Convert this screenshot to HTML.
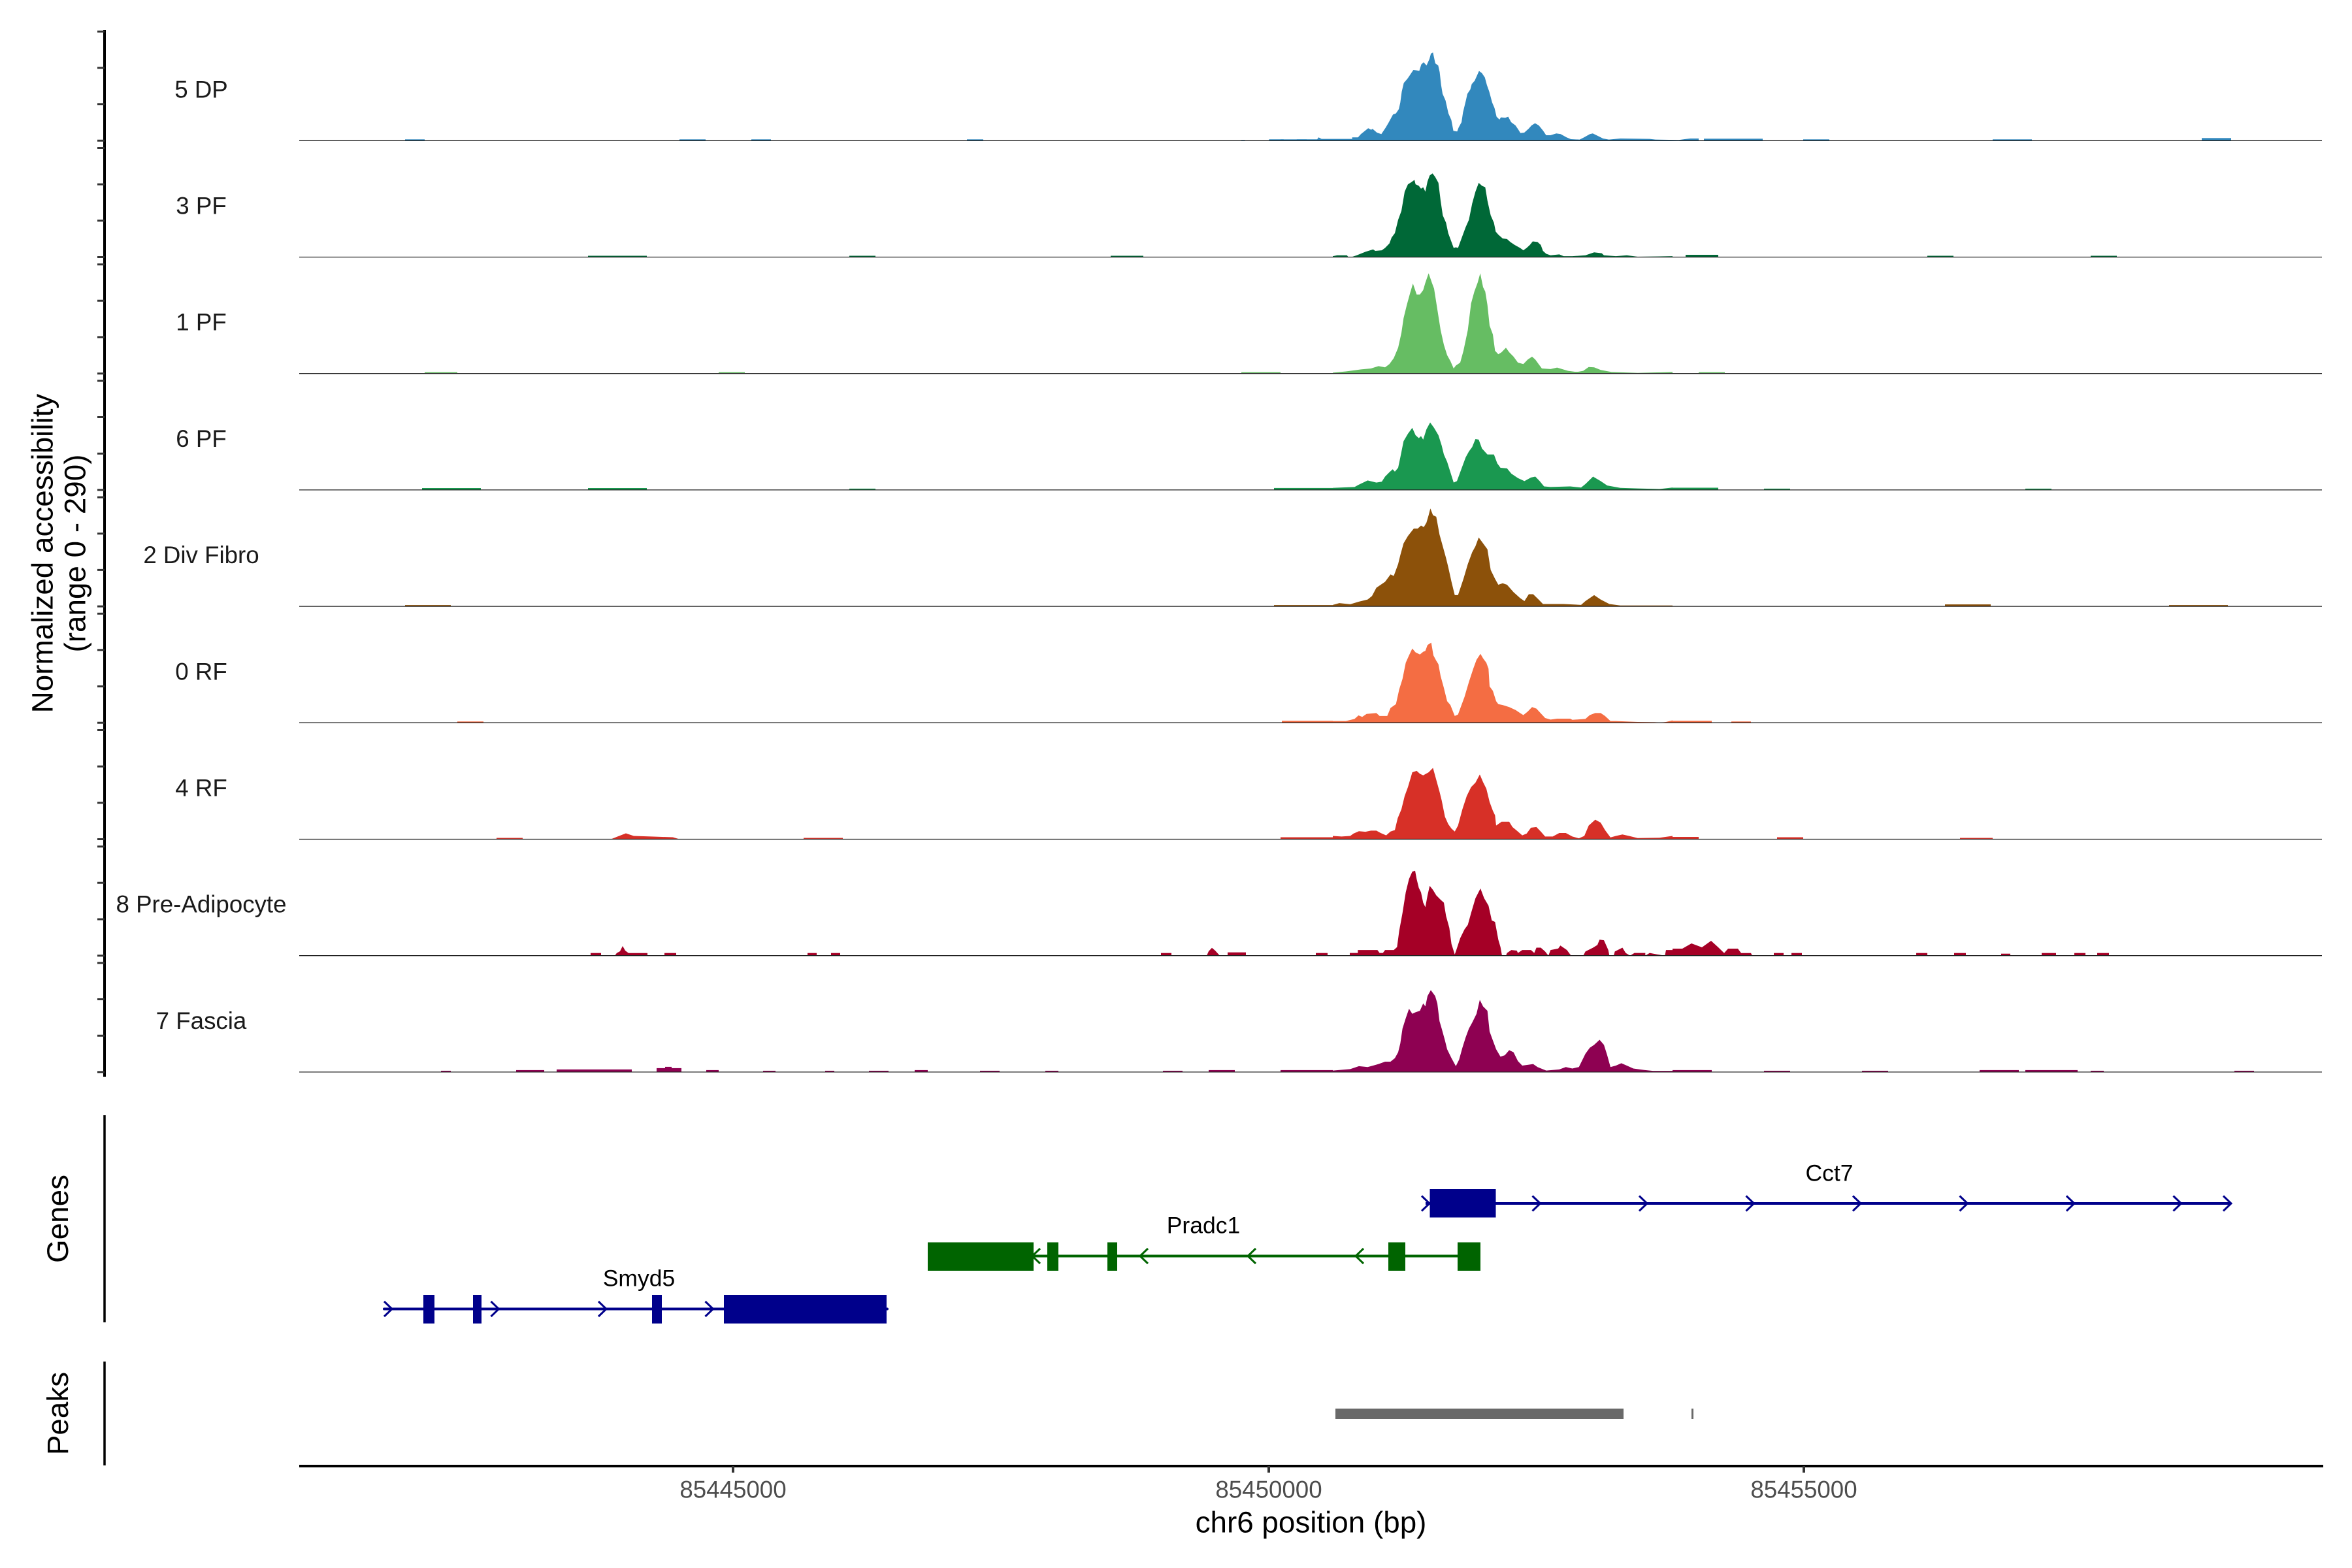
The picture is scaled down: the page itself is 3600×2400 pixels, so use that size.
<!DOCTYPE html>
<html>
<head>
<meta charset="utf-8">
<style>
html,body{margin:0;padding:0;background:#fff;}
svg{display:block;}
text{font-family:"Liberation Sans",Arial,sans-serif;}
</style>
</head>
<body>
<svg width="3600" height="2400" viewBox="0 0 3600 2400" xmlns="http://www.w3.org/2000/svg">
<rect x="0" y="0" width="3600" height="2400" fill="#fff"/>

<!-- Y axis title -->
<text x="80.5" y="847" transform="rotate(-90 80.5 847)" text-anchor="middle" font-size="45.8" fill="#000">Normalized accessibility</text>
<text x="130.3" y="847" transform="rotate(-90 130.3 847)" text-anchor="middle" font-size="45.8" fill="#000">(range 0 - 290)</text>
<text x="104" y="1865.5" transform="rotate(-90 104 1865.5)" text-anchor="middle" font-size="45.8" fill="#000">Genes</text>
<text x="104" y="2163.5" transform="rotate(-90 104 2163.5)" text-anchor="middle" font-size="45.8" fill="#000">Peaks</text>

<!-- left axes -->
<line x1="160" y1="46" x2="160" y2="1648" stroke="#000" stroke-width="4"/>
<line x1="160" y1="1707" x2="160" y2="2024" stroke="#000" stroke-width="3.5"/>
<line x1="160" y1="2084" x2="160" y2="2243" stroke="#000" stroke-width="3.5"/>
<g stroke="#333" stroke-width="3">
<path d="M149 215.3H160M149 159.6H160M149 103.9H160M149 48.3H160
M149 393.5H160M149 337.8H160M149 282.1H160M149 226.5H160
M149 571.7H160M149 516H160M149 460.3H160M149 404.7H160
M149 749.9H160M149 694.2H160M149 638.5H160M149 582.9H160
M149 928.1H160M149 872.4H160M149 816.7H160M149 761.1H160
M149 1106.3H160M149 1050.6H160M149 994.9H160M149 939.3H160
M149 1284.5H160M149 1228.8H160M149 1173.1H160M149 1117.5H160
M149 1462.7H160M149 1407H160M149 1351.3H160M149 1295.7H160
M149 1640.9H160M149 1585.2H160M149 1529.5H160M149 1473.9H160"/>
</g>

<!-- track labels -->
<g font-size="36.7" fill="#1a1a1a" text-anchor="middle">
<text x="308" y="149.3">5 DP</text>
<text x="308" y="327.5">3 PF</text>
<text x="308" y="505.7">1 PF</text>
<text x="308" y="683.9">6 PF</text>
<text x="308" y="862.1">2 Div Fibro</text>
<text x="308" y="1040.3">0 RF</text>
<text x="308" y="1218.5">4 RF</text>
<text x="308" y="1396.7">8 Pre-Adipocyte</text>
<text x="308" y="1574.9">7 Fascia</text>
</g>

<!-- Track 1: 5 DP -->
<g fill="#3288BD">
<path transform="translate(1900 215.3) scale(0.446429 0.333333)" d="M0 0L0 -3L12 -3L14 0L95 0L95 -6L145 -6L147 0L190 0L190 -6L260 -6L265 -15L275 -8L380 -8L380 -15L400 -15L410 -30L435 -57L445 -50L450 -54L465 -37L480 -30L495 -60L505 -83L520 -120L530 -125L540 -145L545 -175L550 -225L557 -265L570 -285L580 -305L590 -325L600 -323L610 -320L617 -350L625 -360L635 -345L645 -375L650 -400L657 -405L665 -355L675 -345L680 -315L685 -255L690 -215L700 -185L710 -125L720 -95L727 -45L740 -42L745 -60L755 -85L760 -130L770 -185L775 -215L785 -235L790 -260L800 -275L810 -305L815 -320L825 -310L835 -290L842 -255L850 -225L860 -175L868 -150L875 -110L885 -97L890 -107L905 -105L915 -110L925 -85L940 -70L950 -50L957 -35L970 -37L985 -55L995 -70L1007 -80L1020 -70L1035 -45L1045 -25L1060 -25L1080 -33L1095 -30L1115 -15L1130 -7L1160 -5L1175 -15L1195 -30L1205 -33L1225 -20L1240 -10L1260 -5L1300 -10L1400 -8L1420 -5L1500 -3L1520 -7L1540 -10L1568 -10L1568 0Z"/>
<rect x="620" y="213.3" width="30" height="2"/><rect x="1040" y="213.3" width="40" height="2"/><rect x="1150" y="213.3" width="30" height="2"/><rect x="1480" y="213.3" width="25" height="2"/><rect x="1960" y="213.3" width="40" height="2"/>
<rect x="2608" y="212.3" width="90" height="3"/><rect x="2760" y="213.3" width="40" height="2"/><rect x="3050" y="213.3" width="60" height="2"/><rect x="3370" y="211.3" width="45" height="4"/>
</g>

<!-- Track 2: 3 PF -->
<g fill="#006837">
<path transform="translate(2040 393.5) scale(0.333333 0.452796)" d="M0 0L0 -3L20 -6L65 -6L70 -1L90 -1L110 -6L150 -18L185 -26L195 -21L225 -23L240 -31L260 -46L270 -66L285 -81L300 -126L315 -156L330 -221L345 -246L360 -253L375 -261L380 -246L395 -241L405 -231L415 -236L425 -221L435 -256L445 -276L458 -283L470 -271L485 -251L495 -191L505 -141L520 -116L530 -81L545 -51L555 -31L565 -33L575 -31L590 -61L610 -101L625 -126L640 -181L655 -221L670 -251L685 -241L700 -236L710 -191L725 -141L740 -116L748 -86L760 -76L780 -63L800 -61L815 -51L835 -41L860 -31L875 -23L890 -31L905 -41L918 -53L940 -51L955 -41L965 -21L980 -11L1000 -6L1040 -9L1060 -3L1100 -3L1160 -6L1200 -16L1235 -13L1245 -6L1300 -3L1350 -6L1400 -1L1560 -3L1560 0Z"/>
<rect x="900" y="391.5" width="90" height="2"/><rect x="1300" y="391.5" width="40" height="2"/><rect x="1700" y="391.5" width="50" height="2"/><rect x="2580" y="390" width="50" height="3.5"/><rect x="2950" y="391.5" width="40" height="2"/><rect x="3200" y="391.5" width="40" height="2"/>
</g>

<!-- Track 3: 1 PF -->
<g fill="#66BD63">
<path transform="translate(2040 571.7) scale(0.333333 0.452796)" d="M0 0L0 -3L60 -7L100 -11L130 -14L175 -17L210 -25L240 -21L260 -32L280 -52L300 -87L315 -137L325 -187L340 -232L355 -272L368 -304L385 -267L400 -267L415 -282L425 -307L440 -339L455 -307L465 -287L480 -217L495 -147L510 -97L525 -62L540 -42L555 -17L565 -27L585 -37L600 -77L620 -147L635 -237L650 -277L665 -307L677 -339L690 -292L700 -277L710 -232L720 -162L735 -132L745 -77L760 -65L775 -72L795 -87L810 -72L830 -57L850 -37L875 -32L895 -47L915 -57L930 -47L945 -32L960 -17L1000 -15L1030 -20L1080 -9L1120 -5L1150 -9L1175 -22L1200 -21L1230 -12L1280 -5L1400 -2L1560 -5L1560 0Z"/>
<rect x="650" y="569.7" width="50" height="2"/><rect x="1100" y="569.7" width="40" height="2"/><rect x="1900" y="569.7" width="60" height="2"/><rect x="2400" y="569" width="50" height="2.7"/><rect x="2600" y="569.7" width="40" height="2"/>
</g>

<!-- Track 4: 6 PF -->
<g fill="#1A9850">
<path transform="translate(2040 749.9) scale(0.333333 0.452796)" d="M0 0L0 -7L100 -10L120 -18L160 -32L200 -25L225 -28L240 -45L260 -60L275 -70L285 -62L300 -75L310 -110L325 -165L345 -190L365 -210L380 -185L395 -175L405 -182L415 -170L430 -205L447 -228L465 -210L485 -185L500 -150L510 -120L525 -95L540 -60L555 -25L570 -30L590 -70L610 -110L625 -130L640 -145L655 -172L670 -170L685 -140L710 -120L740 -120L755 -90L770 -75L800 -73L820 -55L850 -40L880 -30L910 -42L930 -45L950 -30L970 -12L1000 -10L1090 -12L1140 -8L1160 -20L1195 -45L1230 -30L1260 -15L1320 -7L1400 -5L1500 -3L1560 -8L1560 0Z"/>
<rect x="646" y="747" width="90" height="3"/><rect x="900" y="747" width="90" height="3"/><rect x="1300" y="747.9" width="40" height="2"/><rect x="1950" y="746.9" width="90" height="3"/><rect x="2560" y="746.5" width="70" height="3.4"/><rect x="2700" y="747.9" width="40" height="2"/><rect x="3100" y="747.9" width="40" height="2"/>
</g>

<!-- Track 5: 2 Div Fibro -->
<g fill="#8C510A">
<path transform="translate(2040 928.1) scale(0.333333 0.452796)" d="M0 0L0 -5L30 -11L80 -7L120 -16L160 -23L180 -35L200 -63L240 -83L265 -108L280 -103L300 -143L310 -173L325 -213L345 -238L372 -263L390 -263L405 -273L418 -268L430 -283L440 -308L448 -331L460 -308L475 -303L490 -243L505 -203L520 -163L530 -133L545 -83L560 -38L575 -38L600 -93L620 -143L640 -183L655 -203L670 -233L685 -218L710 -193L725 -123L745 -93L760 -73L780 -78L800 -73L830 -48L860 -28L880 -18L900 -41L920 -41L945 -23L965 -8L1000 -8L1060 -8L1140 -5L1160 -18L1200 -38L1230 -23L1270 -8L1320 -3L1560 -3L1560 0Z"/>
<rect x="620" y="926.1" width="70" height="2"/><rect x="1950" y="926.1" width="90" height="2"/><rect x="2977" y="925.1" width="70" height="3"/><rect x="3320" y="926.1" width="90" height="2"/>
</g>

<!-- Track 6: 0 RF -->
<g fill="#F46D43">
<path transform="translate(2040 1106.3) scale(0.333333 0.452796)" d="M0 0L0 -6L60 -6L100 -13L118 -25L135 -20L155 -30L200 -33L215 -23L250 -23L265 -50L290 -63L305 -113L320 -148L335 -203L350 -228L365 -251L380 -238L400 -231L415 -240L425 -243L435 -263L452 -271L462 -228L475 -210L485 -198L495 -158L510 -118L525 -73L540 -60L560 -23L575 -28L590 -58L605 -88L625 -138L645 -183L660 -213L678 -233L690 -218L705 -203L715 -183L720 -123L735 -108L750 -73L760 -63L780 -60L810 -53L840 -43L860 -33L875 -26L895 -38L915 -53L935 -48L960 -28L975 -16L1000 -11L1030 -14L1090 -14L1100 -10L1160 -13L1180 -26L1205 -33L1230 -33L1250 -23L1275 -6L1300 -6L1400 -3L1480 -2L1500 0L1530 -3L1560 -8L1560 0Z"/>
<rect x="1962" y="1103.3" width="78" height="3"/><rect x="2560" y="1103.3" width="60" height="3"/><rect x="2650" y="1104.3" width="30" height="2"/><rect x="700" y="1104.3" width="40" height="2"/>
</g>

<!-- Track 7: 4 RF -->
<g fill="#D73027">
<path transform="translate(2040 1284.5) scale(0.333333 0.452796)" d="M0 0L0 -11L40 -9L80 -11L95 -19L120 -27L150 -25L175 -29L200 -29L220 -21L245 -13L265 -26L285 -31L298 -71L315 -101L330 -146L345 -176L365 -226L385 -231L400 -221L415 -216L440 -226L460 -241L475 -201L490 -161L500 -131L515 -76L530 -51L545 -36L560 -26L575 -46L595 -101L615 -146L635 -176L655 -191L675 -219L690 -193L705 -171L720 -126L735 -96L745 -81L750 -46L775 -59L810 -59L825 -41L845 -29L870 -13L890 -19L910 -39L935 -41L955 -26L975 -9L1010 -9L1040 -21L1070 -21L1100 -9L1130 -3L1155 -11L1175 -46L1205 -66L1230 -56L1250 -31L1275 -6L1300 -11L1330 -16L1360 -11L1400 -4L1500 -5L1560 -11L1560 0Z"/>
<path d="M935 1284.5L945 1280.5L958 1275.5L970 1279.5L1000 1280.5L1030 1281.5L1040 1284.5Z"/>
<rect x="760" y="1282.5" width="40" height="2"/><rect x="1230" y="1282.5" width="60" height="2"/><rect x="1960" y="1281.5" width="80" height="3"/><rect x="2560" y="1281" width="40" height="3.5"/><rect x="2720" y="1281.5" width="40" height="3"/><rect x="3000" y="1282.5" width="50" height="2"/>
</g>

<!-- Track 8: 8 Pre-Adipocyte -->
<g fill="#A50026">
<path transform="translate(2040 1462.7) scale(0.333333 0.452796)" d="M0 0L78 0L78 -9L115 -9L115 -19L205 -19L215 -9L230 -9L240 -19L280 -19L295 -29L305 -84L320 -144L335 -214L350 -259L365 -284L378 -287L385 -259L395 -229L405 -214L415 -179L425 -164L435 -204L445 -236L460 -222L475 -204L495 -189L510 -179L520 -134L535 -94L545 -39L560 -4L565 -14L585 -59L605 -89L620 -104L635 -144L655 -194L678 -227L695 -194L715 -169L730 -119L745 -114L760 -54L770 -29L777 0L795 0L800 -9L820 -19L845 -17L850 -9L870 -19L910 -19L925 -9L935 -27L955 -27L975 -14L990 0L1000 -19L1035 -24L1045 -34L1075 -19L1090 -4L1095 0L1150 0L1160 -14L1195 -27L1215 -36L1225 -54L1245 -52L1265 -19L1270 0L1290 0L1295 -14L1330 -27L1345 -9L1365 0L1385 -9L1435 -9L1435 0L1455 -9L1490 -4L1525 0L1530 -19L1560 -19L1560 0Z"/>
<path d="M2560 1462.7L2560 1452L2575 1452L2589 1444L2605 1450L2619 1440L2630 1450L2639 1458.7L2645 1452L2660 1452L2665 1458.7L2680 1458.7L2682 1462.7Z"/>
<rect x="904" y="1458.7" width="16" height="4"/>
<path d="M941 1462.7L944 1458.7L949 1456L953 1448L957 1455L962 1458.7L991 1458.7L991 1462.7Z"/>
<rect x="1017" y="1458.7" width="18" height="4"/><rect x="1236" y="1458.7" width="14" height="4"/><rect x="1272" y="1458.7" width="14" height="4"/><rect x="1777" y="1458.7" width="16" height="4"/>
<path d="M1847 1462.7L1850 1456L1855 1450.7L1860 1455L1867 1462.7Z"/>
<rect x="1879" y="1457.7" width="28" height="5"/><rect x="2014" y="1458.7" width="18" height="4"/>
<rect x="2715" y="1458.7" width="15" height="4"/><rect x="2742" y="1458.7" width="16" height="4"/><rect x="2933" y="1458.7" width="17" height="4"/><rect x="2991" y="1458.7" width="18" height="4"/><rect x="3063" y="1459.7" width="14" height="3"/><rect x="3125" y="1458.7" width="22" height="4"/><rect x="3175" y="1458.7" width="17" height="4"/><rect x="3210" y="1458.7" width="18" height="4"/>
</g>

<!-- Track 9: 7 Fascia -->
<g fill="#8E0152">
<path transform="translate(2040 1640.9) scale(0.333333 0.452796)" d="M0 0L0 -5L80 -10L120 -20L160 -17L185 -22L210 -27L240 -35L265 -35L285 -47L300 -67L310 -97L320 -147L335 -182L350 -214L365 -197L380 -202L400 -207L415 -232L425 -222L435 -257L450 -277L470 -257L480 -232L490 -172L500 -147L515 -107L525 -77L545 -47L565 -20L580 -42L595 -82L610 -117L625 -147L640 -167L660 -197L675 -244L690 -222L710 -207L720 -137L735 -107L750 -77L770 -52L790 -57L810 -74L830 -67L850 -37L870 -22L900 -25L920 -27L940 -17L980 -5L1040 -9L1070 -17L1100 -12L1130 -17L1160 -62L1180 -82L1200 -92L1225 -109L1245 -92L1260 -57L1275 -17L1300 -22L1325 -30L1350 -22L1380 -12L1430 -7L1470 -4L1560 -4L1560 0Z"/>
<rect x="675" y="1638.9" width="15" height="2"/><rect x="790" y="1637.9" width="43" height="3"/><rect x="852" y="1636.9" width="115" height="4"/><rect x="1005" y="1634.9" width="38" height="6"/><rect x="1018" y="1632.9" width="10" height="8"/><rect x="1081" y="1637.9" width="19" height="3"/><rect x="1168" y="1638.9" width="19" height="2"/><rect x="1263" y="1638.9" width="14" height="2"/><rect x="1330" y="1638.9" width="30" height="2"/><rect x="1400" y="1637.9" width="20" height="3"/><rect x="1500" y="1638.9" width="30" height="2"/><rect x="1600" y="1638.9" width="20" height="2"/><rect x="1780" y="1638.9" width="30" height="2"/><rect x="1850" y="1637.9" width="40" height="3"/><rect x="1960" y="1637.9" width="80" height="3"/><rect x="2560" y="1637.9" width="60" height="3"/><rect x="2700" y="1638.9" width="40" height="2"/><rect x="2850" y="1638.9" width="40" height="2"/><rect x="3030" y="1637.9" width="60" height="3"/><rect x="3100" y="1637.9" width="80" height="3"/><rect x="3200" y="1638.9" width="20" height="2"/><rect x="3420" y="1638.9" width="30" height="2"/>
</g>

<!-- track baselines -->
<g stroke="#222" stroke-width="1.3">
<line x1="458" y1="215.3" x2="3554" y2="215.3"/>
<line x1="458" y1="393.5" x2="3554" y2="393.5"/>
<line x1="458" y1="571.7" x2="3554" y2="571.7"/>
<line x1="458" y1="749.9" x2="3554" y2="749.9"/>
<line x1="458" y1="928.1" x2="3554" y2="928.1"/>
<line x1="458" y1="1106.3" x2="3554" y2="1106.3"/>
<line x1="458" y1="1284.5" x2="3554" y2="1284.5"/>
<line x1="458" y1="1462.7" x2="3554" y2="1462.7"/>
<line x1="458" y1="1640.9" x2="3554" y2="1640.9"/>
</g>

<!-- Genes -->
<!-- Cct7 -->
<g stroke="#00008B" fill="none" stroke-width="4">
<line x1="2182" y1="1842" x2="3414" y2="1842"/>
</g>
<g stroke="#00008B" fill="none" stroke-width="3">
<path d="M2176 1830.5L2188 1842L2176 1853.5M2345.5 1830.5L2357.5 1842L2345.5 1853.5M2509 1830.5L2521 1842L2509 1853.5M2672.5 1830.5L2684.5 1842L2672.5 1853.5M2836 1830.5L2848 1842L2836 1853.5M2999.5 1830.5L3011.5 1842L2999.5 1853.5M3163 1830.5L3175 1842L3163 1853.5M3326.5 1830.5L3338.5 1842L3326.5 1853.5M3403 1830.5L3415 1842L3403 1853.5"/>
</g>
<rect x="2188.5" y="1820" width="101" height="43.5" fill="#00008B"/>
<text x="2800" y="1807.4" text-anchor="middle" font-size="35.5" fill="#000">Cct7</text>

<!-- Pradc1 -->
<g stroke="#006400" fill="none" stroke-width="4">
<line x1="1582" y1="1922.5" x2="2266" y2="1922.5"/>
</g>
<g stroke="#006400" fill="none" stroke-width="3">
<path d="M1592 1911L1580 1922.5L1592 1934M1757 1911L1745 1922.5L1757 1934M1922 1911L1910 1922.5L1922 1934M2087 1911L2075 1922.5L2087 1934"/>
</g>
<g fill="#006400">
<rect x="1420" y="1901.5" width="162" height="43.5"/>
<rect x="1603" y="1901.5" width="17" height="43.5"/>
<rect x="1695" y="1901.5" width="15" height="43.5"/>
<rect x="2125" y="1901.5" width="26" height="43.5"/>
<rect x="2231" y="1901.5" width="35" height="43.5"/>
</g>
<text x="1842" y="1887.7" text-anchor="middle" font-size="35.5" fill="#000">Pradc1</text>

<!-- Smyd5 -->
<g stroke="#00008B" fill="none" stroke-width="4" stroke-linecap="round">
<line x1="588" y1="2003.5" x2="1358" y2="2003.5"/>
</g>
<g stroke="#00008B" fill="none" stroke-width="3">
<path d="M588 1992L600 2003.5L588 2015M751.5 1992L763.5 2003.5L751.5 2015M916 1992L928 2003.5L916 2015M1079.5 1992L1091.5 2003.5L1079.5 2015"/>
</g>
<g fill="#00008B">
<rect x="648" y="1982" width="17" height="43.7"/>
<rect x="724" y="1982" width="13" height="43.7"/>
<rect x="998" y="1982" width="15" height="43.7"/>
<rect x="1108" y="1982" width="249" height="43.7"/>
</g>
<text x="978" y="1968.7" text-anchor="middle" font-size="35.5" fill="#000">Smyd5</text>

<!-- Peaks -->
<rect x="2044" y="2156" width="441" height="16" fill="#696969"/>
<rect x="2589" y="2156" width="3" height="16" fill="#696969"/>

<!-- X axis -->
<line x1="458" y1="2244" x2="3556" y2="2244" stroke="#000" stroke-width="4"/>
<g stroke="#333" stroke-width="4">
<line x1="1122" y1="2244" x2="1122" y2="2254"/>
<line x1="1942" y1="2244" x2="1942" y2="2254"/>
<line x1="2761" y1="2244" x2="2761" y2="2254"/>
</g>
<g font-size="36.7" fill="#4d4d4d" text-anchor="middle">
<text x="1122" y="2292.7">85445000</text>
<text x="1942" y="2292.7">85450000</text>
<text x="2761" y="2292.7">85455000</text>
</g>
<text x="2006.5" y="2345.7" text-anchor="middle" font-size="45.8" fill="#000">chr6 position (bp)</text>
</svg>
</body>
</html>
